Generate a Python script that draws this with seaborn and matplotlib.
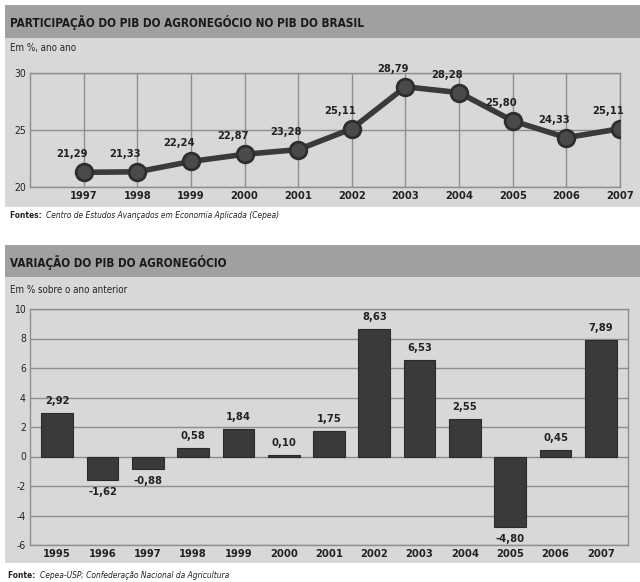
import os
import matplotlib
matplotlib.use("Agg")
import matplotlib.pyplot as plt
from matplotlib import font_manager as fm
from matplotlib.patches import Rectangle
import seaborn as sns

# top chart: share of agribusiness in Brazil's GDP
years_top = [1997, 1998, 1999, 2000, 2001, 2002, 2003, 2004, 2005, 2006, 2007]
share = [21.29, 21.33, 22.24, 22.87, 23.28, 25.11, 28.79, 28.28, 25.80, 24.33, 25.11]

# bottom chart: yearly change of agribusiness GDP
years_bar = ["1995", "1996", "1997", "1998", "1999", "2000", "2001",
             "2002", "2003", "2004", "2005", "2006", "2007"]
variation = [2.92, -1.62, -0.88, 0.58, 1.84, 0.10, 1.75, 8.63, 6.53, 2.55, -4.80, 0.45, 7.89]

W, H = 640, 582
panel = "#d8d8d8"
band = "#a0a0a0"
grid = "#8e8e8e"
dark = "#3a3a3a"
ink = "#222222"

sns.set_style("white")
plt.rcParams["font.family"] = ["DejaVu Sans"]
plt.rcParams["axes.unicode_minus"] = False

# the newspaper used a narrow font, look for a condensed one that is installed
font_files = {os.path.basename(f.fname): f.fname for f in fm.fontManager.ttflist}
candidates = {
    "title": ["NotoSans-ExtraCondensedBold.ttf", "LiberationSansNarrow-Bold.ttf",
              "DejaVuSansCondensed-Bold.ttf", "NotoSans-CondensedBold.ttf"],
    "bold": ["LiberationSansNarrow-Bold.ttf", "DejaVuSansCondensed-Bold.ttf",
             "NotoSans-CondensedBold.ttf", "NotoSans-CondensedSemiBold.ttf"],
    "regular": ["LiberationSansNarrow-Regular.ttf", "DejaVuSansCondensed.ttf",
                "NotoSans-Condensed.ttf"],
    "italic": ["LiberationSansNarrow-Italic.ttf", "DejaVuSansCondensed-Oblique.ttf",
               "NotoSans-CondensedItalic.ttf"],
}
narrow = {}
for kind, names in candidates.items():
    narrow[kind] = None
    for n in names:
        if n in font_files:
            narrow[kind] = font_files[n]
            break


def font(kind, size):
    if narrow[kind]:
        fp = fm.FontProperties(fname=narrow[kind])
        fp.set_size(size)
        return fp
    return fm.FontProperties(family="DejaVu Sans", size=size * 0.8,
                             weight="normal" if kind == "regular" else "bold",
                             style="italic" if kind == "italic" else "normal")


def fy(y):
    return 1 - y / H


def box(x0, y0, x1, y1):
    return [x0 / W, 1 - y1 / H, (x1 - x0) / W, (y1 - y0) / H]


def fmt(v):
    return f"{v:.2f}".replace(".", ",")


fig = plt.figure(figsize=(6.4, 5.82), dpi=100, facecolor="white")


def rect(x0, y0, x1, y1, color):
    r = Rectangle((x0 / W, 1 - y1 / H), (x1 - x0) / W, (y1 - y0) / H,
                  transform=fig.transFigure, color=color, zorder=-10, lw=0)
    fig.add_artist(r)


# background panels and header bands
rect(5, 5, W, 207, panel)
rect(5, 5, W, 38, band)
rect(5, 245, W, 563, panel)
rect(5, 245, W, 277, band)

t1 = fig.text(10 / W, fy(22), "PARTICIPAÇÃO DO PIB DO AGRONEGÓCIO NO PIB DO BRASIL",
              fontproperties=font("title", 12), color="#1a1a1a", va="center")
fig.text(10 / W, fy(48), "Em %, ano ano", fontproperties=font("regular", 7),
         color=ink, va="center")
t2 = fig.text(10 / W, fy(262), "VARIAÇÃO DO PIB DO AGRONEGÓCIO",
              fontproperties=font("title", 12), color="#1a1a1a", va="center")
fig.text(10 / W, fy(290), "Em % sobre o ano anterior", fontproperties=font("regular", 7),
         color=ink, va="center")

src1 = fig.text(10 / W, fy(216), "Fontes: ", fontproperties=font("bold", 6),
                color=ink, va="center")
src2 = fig.text(8 / W, fy(575), "Fonte: ", fontproperties=font("bold", 6),
                color=ink, va="center")
fig.canvas.draw()
r = fig.canvas.get_renderer()

# fit the headline widths to the newspaper's
for t, target in [(t1, 356), (t2, 218)]:
    w = t.get_window_extent(r).width
    t.set_fontsize(min(13, 12 * target / w))

w1 = src1.get_window_extent(r)
w2 = src2.get_window_extent(r)
fig.text((w1.x1 + 2) / W, fy(216), "Centro de Estudos Avançados em Economia Aplicada (Cepea)",
         fontproperties=font("italic", 6), color=ink, va="center")
fig.text((w2.x1 + 2) / W, fy(575), "Cepea-USP; Confederação Nacional da Agricultura",
         fontproperties=font("italic", 6), color=ink, va="center")

# line chart
ax1 = fig.add_axes(box(30, 73, 620, 187))
ax1.set_facecolor(panel)
sns.lineplot(x=years_top, y=share, ax=ax1, color=dark, linewidth=4,
             marker="o", markersize=12, markerfacecolor="#4a4a4a",
             markeredgecolor="#2e2e2e", markeredgewidth=2, zorder=3)
for yr, v in zip(years_top, share):
    ax1.annotate(fmt(v), (yr, v), xytext=(-12, 18), textcoords="offset pixels",
                 ha="center", va="center", fontproperties=font("bold", 8),
                 color=ink, annotation_clip=False)
ax1.set_xlim(1996, 2007)
ax1.set_ylim(20, 30)
ax1.set_xticks(years_top)
ax1.set_xticklabels([str(y) for y in years_top])
ax1.set_yticks([20, 25, 30])
ax1.grid(True, color=grid, linewidth=1)
ax1.tick_params(length=0, colors=ink, pad=3)
for lab in ax1.get_xticklabels():
    lab.set_fontproperties(font("bold", 8))
for lab in ax1.get_yticklabels():
    lab.set_fontproperties(font("regular", 7.5))
for s in ax1.spines.values():
    s.set_color(grid)
    s.set_linewidth(1)
ax1.set_xlabel("")
ax1.set_ylabel("")

# bar chart
ax2 = fig.add_axes(box(30, 309, 628, 545))
ax2.set_facecolor(panel)
sns.barplot(x=years_bar, y=variation, ax=ax2, color=dark, width=0.7,
            saturation=1, edgecolor="#2a2a2a", linewidth=0.8, zorder=3)
for i, v in enumerate(variation):
    off = 12 if v >= 0 else -12
    ax2.annotate(fmt(v), (i, v), xytext=(0, off), textcoords="offset pixels",
                 ha="center", va="center", fontproperties=font("bold", 8), color=ink)
ax2.set_xlim(-0.6, 12.6)
ax2.set_ylim(-6, 10)
ax2.set_yticks(range(-6, 11, 2))
ax2.yaxis.grid(True, color=grid, linewidth=1)
ax2.xaxis.grid(False)
ax2.set_axisbelow(True)
ax2.tick_params(length=0, colors=ink, pad=3)
for lab in ax2.get_xticklabels():
    lab.set_fontproperties(font("bold", 8))
for lab in ax2.get_yticklabels():
    lab.set_fontproperties(font("regular", 7.5))
for s in ax2.spines.values():
    s.set_color(grid)
    s.set_linewidth(1)
ax2.set_xlabel("")
ax2.set_ylabel("")

fig.savefig("out.png", dpi=100, facecolor="white")
